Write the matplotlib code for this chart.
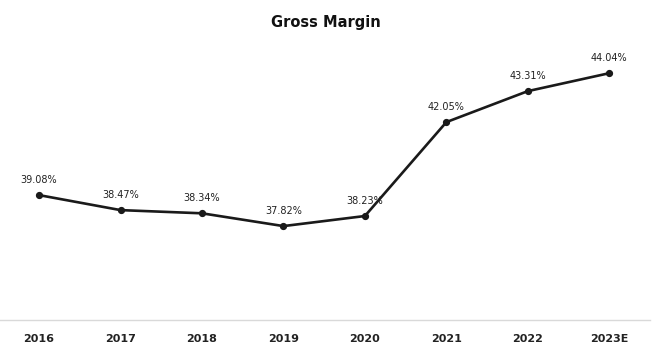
import matplotlib
matplotlib.use("Agg")
import matplotlib.pyplot as plt

years = ["2016", "2017", "2018", "2019", "2020", "2021", "2022", "2023E"]
gross_margin = [39.08, 38.47, 38.34, 37.82, 38.23, 42.05, 43.31, 44.04]

fig = plt.figure(figsize=(6.53, 3.56), dpi=100)
ax = fig.add_axes([0.0, 1 - 320 / 356, 650 / 653, (320 - 25) / 356])
x = list(range(len(years)))
ax.plot(x, gross_margin, color="#1a1a1a", linewidth=1.9, marker="o", markersize=4.2,
        solid_capstyle="round", zorder=3)
for xi, v in zip(x, gross_margin):
    ax.annotate(f"{v:.2f}%", (xi, v), xytext=(0, 7.5), textcoords="offset points",
                ha="center", va="bottom", fontsize=7, color="#222222")

ax.set_xlim(-0.48, 7.5)
ax.set_ylim(34, 46)
ax.set_xticks(x)
ax.set_xticklabels(years, fontsize=8, fontweight="bold", color="#222222")
ax.tick_params(axis="x", length=0, pad=10)
ax.set_yticks([])
for s in ["left", "right", "top"]:
    ax.spines[s].set_visible(False)
ax.spines["bottom"].set_color("#d9d9d9")
ax.spines["bottom"].set_linewidth(1.0)

fig.text(326 / 653, 1 - 22 / 356, "Gross Margin", ha="center", va="center",
         fontsize=10.5, fontweight="bold", color="#111111")

fig.savefig("out.png", dpi=100)
